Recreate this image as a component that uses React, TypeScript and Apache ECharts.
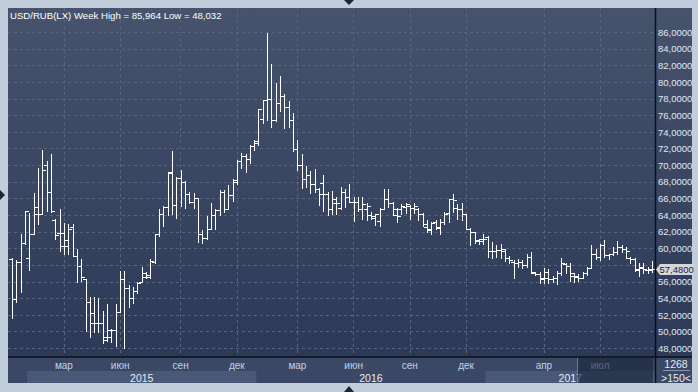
import React, { useEffect, useRef } from 'react';
import * as echarts from 'echarts';

// ---- data (weekly OHLC, USD/RUB) ----
const firstWeek = '2014-12-15';
const barCount = 149;

const openV = [
  58.7, 53.9, 58.4, 60.7, 58.9, 61.7, 64.1, 64.1, 70.0, 66.8,
  63.4, 61.9, 60.3, 61.0, 62.6, 59.1, 57.9, 56.3, 53.6, 51.0,
  51.1, 51.1, 49.4, 50.2, 50.2, 52.4, 56.3, 55.2, 54.0, 54.9,
  56.0, 57.0, 56.6, 58.4, 61.7, 64.1, 65.0, 69.1, 65.2, 68.5,
  68.0, 66.6, 65.6, 66.1, 61.8, 61.3, 62.4, 64.0, 64.6, 66.8,
  64.8, 66.4, 68.0, 70.5, 71.1, 70.8, 72.3, 72.7, 75.6, 77.8,
  78.0, 75.5, 77.5, 78.3, 77.0, 75.4, 72.0, 70.0, 68.4, 68.8,
  67.7, 67.1, 67.9, 66.6, 64.8, 65.5, 64.9, 66.8, 66.2, 65.6,
  65.6, 64.8, 64.7, 64.0, 63.7, 63.3, 64.7, 66.0, 65.5, 64.0,
  64.7, 65.0, 65.1, 64.9, 64.7, 64.2, 62.6, 62.2, 63.2, 62.5,
  63.2, 64.3, 65.9, 64.9, 64.8, 64.1, 62.4, 62.0, 60.9, 61.2,
  61.4, 59.7, 59.7, 59.8, 59.7, 58.9, 58.4, 58.3, 58.4, 58.0,
  59.0, 57.1, 56.9, 56.5, 56.4, 56.3, 56.4, 57.1, 58.1, 57.9,
  56.7, 56.6, 56.5, 57.1, 57.7, 59.4, 59.0, 60.4, 59.2, 59.3,
  59.6, 60.2, 60.0, 58.8, 58.7, 57.4, 57.6, 57.4, 57.4,
];

const highV = [
  58.8, 58.6, 61.8, 64.5, 64.3, 66.7, 69.7, 71.9, 70.5, 71.4,
  63.6, 64.7, 63.1, 62.9, 63.0, 60.0, 58.7, 56.3, 54.2, 54.2,
  54.1, 52.5, 53.3, 50.3, 53.3, 57.3, 57.3, 55.6, 55.4, 56.0,
  57.8, 57.2, 58.7, 61.7, 64.7, 65.1, 69.2, 71.7, 68.6, 69.4,
  68.1, 66.8, 66.7, 66.1, 62.2, 63.9, 65.5, 64.8, 67.0, 67.0,
  67.6, 68.3, 70.6, 71.5, 71.4, 72.5, 73.0, 76.8, 77.8, 85.964,
  82.2, 79.9, 80.7, 78.6, 77.7, 76.3, 73.0, 71.4, 69.9, 69.3,
  69.6, 67.3, 68.8, 66.8, 66.9, 66.2, 67.4, 67.2, 67.7, 66.2,
  66.2, 66.2, 65.5, 64.4, 64.2, 64.9, 67.2, 67.1, 65.6, 64.9,
  65.3, 65.5, 65.2, 65.5, 64.9, 64.3, 63.4, 63.2, 63.4, 63.5,
  64.4, 66.0, 66.5, 65.4, 65.5, 64.1, 62.5, 62.0, 61.2, 61.7,
  61.5, 60.8, 60.4, 60.5, 60.0, 59.1, 58.6, 58.7, 58.6, 59.4,
  59.6, 57.2, 57.2, 57.6, 57.5, 56.7, 57.3, 58.8, 58.2, 58.2,
  57.0, 56.9, 57.2, 57.8, 60.4, 59.9, 60.6, 61.0, 59.4, 60.2,
  60.9, 60.4, 60.2, 59.0, 58.9, 58.2, 58.2, 57.8, 58.5,
];

const lowV = [
  51.7, 53.6, 54.8, 60.6, 57.4, 61.7, 62.9, 64.1, 64.5, 64.4,
  61.1, 59.7, 59.3, 59.4, 59.1, 56.0, 56.1, 50.1, 49.3, 50.0,
  50.0, 48.6, 48.9, 48.7, 48.3, 52.4, 48.032, 53.0, 53.4, 54.6,
  56.0, 56.4, 56.4, 58.3, 61.5, 62.7, 64.0, 64.1, 63.7, 65.1,
  64.9, 65.5, 64.9, 60.8, 60.7, 61.2, 62.3, 62.3, 64.0, 64.4,
  64.7, 65.7, 67.8, 69.7, 69.2, 70.3, 71.9, 72.5, 75.1, 75.4,
  74.6, 75.3, 76.5, 74.5, 74.6, 71.7, 69.5, 67.3, 67.4, 66.7,
  66.8, 65.2, 64.5, 64.0, 64.1, 64.2, 64.8, 65.0, 65.6, 63.3,
  64.5, 63.5, 63.4, 63.5, 62.8, 62.7, 64.7, 65.0, 64.0, 63.2,
  64.1, 64.3, 63.6, 64.3, 63.4, 62.7, 62.0, 61.7, 62.3, 61.8,
  63.0, 63.2, 64.4, 63.5, 63.4, 62.3, 60.4, 60.7, 60.6, 60.5,
  59.0, 58.9, 59.0, 58.9, 58.5, 58.2, 56.5, 57.8, 57.6, 57.8,
  57.1, 56.8, 55.8, 55.8, 55.9, 56.0, 55.7, 56.8, 57.1, 56.1,
  56.0, 56.1, 56.4, 56.8, 57.6, 58.7, 58.6, 59.0, 58.7, 59.2,
  59.4, 59.6, 58.8, 58.2, 57.3, 56.7, 57.0, 57.1, 57.2,
];

const closeV = [
  53.9, 58.4, 60.7, 64.5, 61.7, 65.0, 64.1, 69.5, 66.8, 64.5,
  61.6, 61.9, 60.3, 62.3, 59.1, 57.9, 56.6, 53.6, 52.2, 51.0,
  51.1, 49.0, 49.4, 50.2, 52.4, 56.3, 55.2, 54.0, 54.9, 55.8,
  56.6, 56.8, 58.5, 61.7, 64.1, 65.0, 69.2, 65.2, 68.5, 68.0,
  66.6, 65.6, 66.1, 61.8, 61.3, 62.4, 64.0, 64.6, 66.8, 64.8,
  66.4, 68.2, 70.5, 71.1, 70.8, 72.3, 72.9, 76.8, 77.8, 78.0,
  75.5, 77.5, 78.3, 77.0, 75.4, 72.0, 70.0, 68.4, 68.8, 67.7,
  67.1, 66.5, 66.5, 64.8, 65.9, 65.5, 66.8, 66.2, 65.6, 65.6,
  64.8, 65.3, 65.1, 63.9, 64.2, 64.7, 66.0, 65.5, 64.7, 63.9,
  65.1, 65.3, 64.9, 65.1, 64.2, 62.9, 62.3, 63.1, 62.6, 63.2,
  64.2, 65.9, 65.8, 64.8, 64.2, 62.4, 62.0, 61.0, 60.9, 61.2,
  59.7, 59.7, 59.8, 60.0, 58.9, 58.6, 58.3, 58.4, 58.0, 59.0,
  57.2, 56.9, 56.3, 57.2, 56.3, 56.4, 57.1, 58.2, 57.9, 57.0,
  56.7, 56.5, 57.1, 57.7, 59.4, 59.0, 60.4, 59.2, 59.3, 59.6,
  60.2, 60.0, 59.7, 58.7, 57.5, 57.8, 57.5, 57.5, 57.48,
];

const monthTickMonths = ['2015-03', '2015-06', '2015-09', '2015-12', '2016-03', '2016-06', '2016-09', '2016-12', '2017-04', '2017-07'];
const monthTickLabels = ['мар', 'июн', 'сен', 'дек', 'мар', 'июн', 'сен', 'дек', 'апр', 'июл'];
const yearLabels = ['2015', '2016', '2017'];
const yMin = 48;
const yMax = 86;
const yStep = 2;
const symbolName = 'USD/RUB(LX) Week';
const barsInfo = '1268';
const visibleInfo = '>150<';

function buildCategories(): string[] {
  const out: string[] = [];
  const day = 86400000;
  let cur = Date.parse(firstWeek + 'T00:00:00Z');
  const fmt = (t: number) => new Date(t).toISOString().slice(0, 10);
  while (out.length < barCount) {
    out.push(fmt(cur));
    const next = cur + 7 * day;
    const jan1 = Date.UTC(new Date(cur).getUTCFullYear() + 1, 0, 1);
    if (jan1 > cur && jan1 < next && out.length < barCount) out.push(fmt(jan1));
    cur = next;
  }
  return out;
}

const fmtRu = (v: number, d: number) => v.toFixed(d).replace('.', ',');

export default function App() {
  const ref = useRef<HTMLDivElement>(null);

  useEffect(() => {
    const el = ref.current!;
    const chart = echarts.init(el, undefined, { renderer: 'svg' });
    const cats = buildCategories();
    const tickIdx = monthTickMonths.map((m) => cats.findIndex((d) => d.startsWith(m)));
    const isTick = (i: number) => tickIdx.includes(i);
    const data = cats.map((_, i) => [i, openV[i], highV[i], lowV[i], closeV[i]]);
    const font = 'Liberation Sans, Arial, sans-serif';
    const last = closeV[closeV.length - 1];

    // layout
    const plotLeft = 8, plotRight = 655, plotTop = 8, plotBottom = 357;
    const panelRight = 692, panelBottom = 383;
    const labTop = 32.3, labBottom = 348.3; // pixel rows of yMax / yMin
    const ppu = (labBottom - labTop) / (yMax - yMin);
    const minA = yMin - (plotBottom - labBottom) / ppu;
    const maxA = yMax + (labTop - plotTop) / ppu;
    const dash = { color: '#56647f', type: [3, 3] as any, width: 1 };

    const option: any = {
      animation: false,
      backgroundColor: '#c2cddb',
      grid: [
        { left: 12, top: plotTop, width: 640, height: plotBottom - plotTop },
        { left: plotLeft, top: labTop, width: plotRight - plotLeft, height: labBottom - labTop },
      ],
      xAxis: [
        {
          type: 'category', gridIndex: 0, data: cats, boundaryGap: false,
          axisLine: { show: false }, axisTick: { show: false },
          axisLabel: {
            interval: (i: number) => isTick(i),
            formatter: (_v: string, i: number) => {
              const k = tickIdx.indexOf(i);
              return k >= 0 ? monthTickLabels[k] : '';
            },
            color: '#c3d1e6', fontSize: 10, fontFamily: font, margin: 3.5,
          },
          splitLine: { show: true, interval: (i: number) => isTick(i), lineStyle: dash },
        },
        { type: 'value', gridIndex: 1, show: false, min: 0, max: 1 },
      ],
      yAxis: [
        { type: 'value', gridIndex: 0, show: false, min: minA, max: maxA, splitLine: { show: false } },
        {
          type: 'value', gridIndex: 1, position: 'right', min: yMin, max: yMax, interval: yStep,
          axisLine: { show: false }, axisTick: { show: false },
          axisLabel: {
            // the label hidden under the last-price tag is not drawn
            formatter: (v: number) => (Math.abs(v - last) < 1.2 ? '' : fmtRu(v, 4)),
            color: '#e0e9f6', fontSize: 9.5, fontFamily: font, margin: 3,
          },
          splitLine: { show: true, lineStyle: dash },
        },
      ],
      series: [
        {
          type: 'custom', xAxisIndex: 0, yAxisIndex: 0, data,
          encode: { x: 0, y: [1, 2, 3, 4] },
          renderItem: (_p: any, api: any) => {
            const i = api.value(0);
            const hi = api.coord([i, api.value(2)]);
            const lo = api.coord([i, api.value(3)]);
            const op = api.coord([i, api.value(1)]);
            const cl = api.coord([i, api.value(4)]);
            const x = Math.round(hi[0]) + 0.5;
            const sn = (y: number) => Math.round(y) + 0.5;
            const st = { stroke: '#ffffff', lineWidth: 1 };
            return {
              type: 'group',
              children: [
                { type: 'line', shape: { x1: x, y1: Math.round(hi[1]), x2: x, y2: Math.round(lo[1]) + 1 }, style: st },
                { type: 'line', shape: { x1: x - 3.5, y1: sn(op[1]), x2: x, y2: sn(op[1]) }, style: st },
                { type: 'line', shape: { x1: x, y1: sn(cl[1]), x2: x + 3.5, y2: sn(cl[1]) }, style: st },
              ],
            };
          },
        },
      ],
    };
    chart.setOption(option);

    const xAt = (i: number) => chart.convertToPixel({ xAxisIndex: 0 }, i) as unknown as number;
    const yAt = (v: number) => chart.convertToPixel({ yAxisIndex: 0 }, v) as unknown as number;
    const grad = {
      type: 'linear', x: 0, y: 0, x2: 0, y2: 1,
      colorStops: [{ offset: 0, color: '#47536c' }, { offset: 1, color: '#2c3957' }],
    };
    const txt = (text: string, x: number, y: number, fill: string, align: string, size = 9.5, z = 60) => ({
      type: 'text', x, y, z,
      style: { text, fill, fontSize: size, fontFamily: font, align, verticalAlign: 'middle', textAlign: align, textVerticalAlign: 'middle' },
    });

    const g: any[] = [
      { type: 'rect', z: -10, shape: { x: plotLeft, y: plotTop, width: plotRight - plotLeft, height: plotBottom - plotTop }, style: { fill: grad } },
      { type: 'rect', z: -10, shape: { x: plotRight, y: plotTop, width: panelRight - plotRight, height: plotBottom - plotTop }, style: { fill: grad } },
      { type: 'rect', z: -10, shape: { x: plotLeft, y: plotBottom, width: panelRight - plotLeft, height: panelBottom - plotBottom }, style: { fill: '#3b4865' } },
    ];

    // year bands
    const yStarts = yearLabels.map((y) => cats.findIndex((d) => d.startsWith(y)));
    const bandX = yStarts.map((i) => (xAt(i) + xAt(i + 1)) / 2);
    yearLabels.forEach((y, k) => {
      const x0 = bandX[k];
      const x1 = k + 1 < bandX.length ? bandX[k + 1] : plotRight;
      if (k % 2 === 0) {
        g.push({ type: 'rect', z: -9, shape: { x: x0, y: 371, width: x1 - x0, height: 12 }, style: { fill: '#4a5877' } });
      }
      g.push(txt(y, (x0 + x1) / 2, 377.5, '#e6edf6', 'center', 10.5, 40));
    });

    // scroll thumb overlay
    g.push({ type: 'rect', z: 50, shape: { x: 577, y: 357.5, width: 76, height: 25.5 }, style: { fill: 'rgba(26,36,58,0.62)' } });
    g.push({ type: 'line', z: 51, shape: { x1: 577.5, y1: 358, x2: 577.5, y2: 383 }, style: { stroke: '#6b7a93', lineWidth: 1 } });

    // separators
    g.push({ type: 'line', z: 55, shape: { x1: plotRight + 0.5, y1: plotTop, x2: plotRight + 0.5, y2: panelBottom }, style: { stroke: '#0b1019', lineWidth: 1.5 } });
    g.push({ type: 'line', z: 55, shape: { x1: plotLeft, y1: plotBottom, x2: panelRight, y2: plotBottom }, style: { stroke: '#0b1019', lineWidth: 1.5 } });

    // title
    const hiMax = Math.max(...highV);
    const loMin = Math.min(...lowV);
    g.push(txt(`${symbolName} High = ${fmtRu(hiMax, 3)} Low = ${fmtRu(loMin, 3)}`, 10, 15.5, '#ffffff', 'left', 9.6));

    // last price tag
    const py = yAt(last);
    g.push({
      type: 'polygon', z: 58,
      shape: { points: [[656, py], [660, py - 5.5], [694, py - 5.5], [694, py + 5.5], [660, py + 5.5]] },
      style: { fill: '#d3d7dd' },
    });
    g.push(txt(fmtRu(last, 4), 659.5, py + 0.5, '#1b2232', 'left', 9.5, 59));

    // bottom-right info
    g.push(txt(barsInfo, 676, 364, '#e4eaf3', 'center', 10.5));
    g.push({ type: 'line', z: 60, shape: { x1: 663, y1: 370.5, x2: 690, y2: 370.5 }, style: { stroke: '#8796ad', lineWidth: 1 } });
    g.push(txt(visibleInfo, 676, 377.5, '#e4eaf3', 'center', 10.5));

    // frame arrows
    g.push({ type: 'polygon', z: 60, shape: { points: [[344, 0], [354, 0], [349, 5]] }, style: { fill: '#1c2535' } });
    g.push({ type: 'polygon', z: 60, shape: { points: [[0, 190], [0, 200], [5, 195]] }, style: { fill: '#1c2535' } });
    g.push({ type: 'polygon', z: 60, shape: { points: [[344, 392], [354, 392], [349, 386]] }, style: { fill: '#1c2535' } });

    chart.setOption({ graphic: g });

    return () => chart.dispose();
  }, []);

  return <div ref={ref} style={{ position: 'fixed', left: 0, top: 0, width: 698, height: 392 }} />;
}
